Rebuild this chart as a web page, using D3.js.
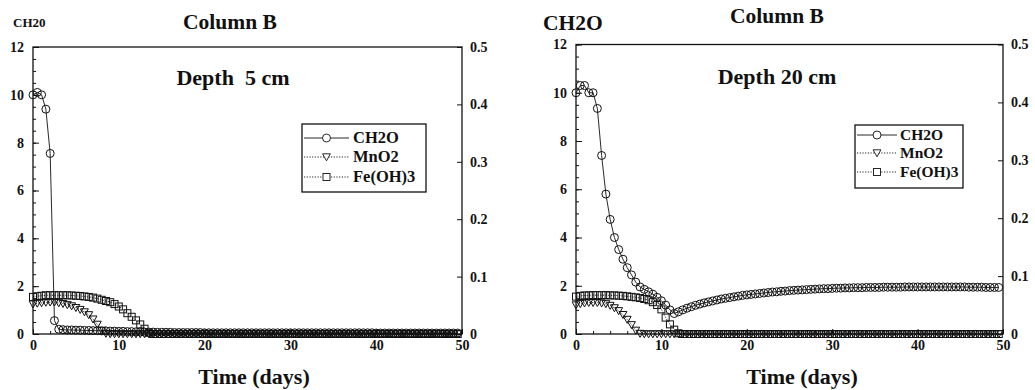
<!DOCTYPE html>
<html>
<head>
<meta charset="utf-8">
<script src="https://cdn.jsdelivr.net/npm/d3@7"></script>
<style>
  body { margin: 0; background: #fff; }
</style>
</head>
<body>
<svg id="chart" width="1035" height="390"></svg>
<script>
// Sampling times (days)
const days = [
  0, 0.5, 1, 1.5, 2, 2.5, 3, 3.5, 4, 4.5,
  5, 5.5, 6, 6.5, 7, 7.5, 8, 8.5, 9, 9.5,
  10, 10.5, 11, 11.5, 12, 12.5, 13, 13.5, 14, 14.5,
  15, 15.5, 16, 16.5, 17, 17.5, 18, 18.5, 19, 19.5,
  20, 20.5, 21, 21.5, 22, 22.5, 23, 23.5, 24, 24.5,
  25, 25.5, 26, 26.5, 27, 27.5, 28, 28.5, 29, 29.5,
  30, 30.5, 31, 31.5, 32, 32.5, 33, 33.5, 34, 34.5,
  35, 35.5, 36, 36.5, 37, 37.5, 38, 38.5, 39, 39.5,
  40, 40.5, 41, 41.5, 42, 42.5, 43, 43.5, 44, 44.5,
  45, 45.5, 46, 46.5, 47, 47.5, 48, 48.5, 49, 49.5
];

// Depth 5 cm
const ch2o5 = [
  10.0, 10.1, 10.0, 9.4, 7.55, 0.56, 0.20, 0.18, 0.17, 0.17,
  0.16, 0.16, 0.15, 0.15, 0.14, 0.14, 0.13, 0.13, 0.12, 0.12,
  0.11, 0.11, 0.10, 0.10, 0.09, 0.09, 0.08, 0.08, 0.08, 0.07,
  0.07, 0.07, 0.07, 0.06, 0.06, 0.06, 0.06, 0.06, 0.06, 0.06,
  0.05, 0.05, 0.05, 0.05, 0.05, 0.05, 0.05, 0.05, 0.05, 0.05,
  0.05, 0.05, 0.05, 0.05, 0.05, 0.05, 0.05, 0.05, 0.05, 0.05,
  0.05, 0.05, 0.05, 0.05, 0.05, 0.05, 0.05, 0.05, 0.05, 0.05,
  0.05, 0.05, 0.05, 0.05, 0.05, 0.05, 0.05, 0.05, 0.05, 0.05,
  0.04, 0.04, 0.04, 0.04, 0.04, 0.04, 0.04, 0.04, 0.04, 0.04,
  0.04, 0.04, 0.04, 0.04, 0.04, 0.04, 0.04, 0.04, 0.04, 0.04
];
const mno2_5 = [
  1.25, 1.28, 1.30, 1.32, 1.33, 1.33, 1.30, 1.27, 1.22, 1.17,
  1.10, 1.02, 0.92, 0.80, 0.62, 0.40, 0.15, 0.02, 0, 0,
  0, 0, 0, 0, 0, 0, 0, 0, 0, 0,
  0, 0, 0, 0, 0, 0, 0, 0, 0, 0,
  0, 0, 0, 0, 0, 0, 0, 0, 0, 0,
  0, 0, 0, 0, 0, 0, 0, 0, 0, 0,
  0, 0, 0, 0, 0, 0, 0, 0, 0, 0,
  0, 0, 0, 0, 0, 0, 0, 0, 0, 0,
  0, 0, 0, 0, 0, 0, 0, 0, 0, 0,
  0, 0, 0, 0, 0, 0, 0, 0, 0, 0
];
const feoh3_5 = [
  1.55, 1.58, 1.60, 1.62, 1.62, 1.62, 1.62, 1.62, 1.62, 1.61,
  1.60, 1.59, 1.57, 1.55, 1.52, 1.48, 1.43, 1.38, 1.33, 1.25,
  1.15, 1.03, 0.87, 0.72, 0.57, 0.40, 0.22, 0.05, 0, 0,
  0, 0, 0, 0, 0, 0, 0, 0, 0, 0,
  0, 0, 0, 0, 0, 0, 0, 0, 0, 0,
  0, 0, 0, 0, 0, 0, 0, 0, 0, 0,
  0, 0, 0, 0, 0, 0, 0, 0, 0, 0,
  0, 0, 0, 0, 0, 0, 0, 0, 0, 0,
  0, 0, 0, 0, 0, 0, 0, 0, 0, 0,
  0, 0, 0, 0, 0, 0, 0, 0, 0, 0
];

// Depth 20 cm
const ch2o20 = [
  10.0, 10.3, 10.3, 10.0, 10.0, 9.35, 7.4, 5.8, 4.75, 4.0,
  3.5, 3.1, 2.75, 2.45, 2.15, 1.95, 1.85, 1.75, 1.65, 1.52,
  1.38, 1.2, 1.0, 0.85, 0.92, 1.0, 1.07, 1.13, 1.19, 1.24,
  1.29, 1.33, 1.37, 1.41, 1.45, 1.48, 1.51, 1.54, 1.57, 1.6,
  1.62, 1.64, 1.66, 1.68, 1.7, 1.72, 1.74, 1.75, 1.77, 1.78,
  1.8, 1.81, 1.82, 1.83, 1.84, 1.85, 1.86, 1.87, 1.88, 1.88,
  1.89, 1.9, 1.9, 1.91, 1.91, 1.92, 1.92, 1.92, 1.93, 1.93,
  1.93, 1.93, 1.94, 1.94, 1.94, 1.94, 1.94, 1.95, 1.95, 1.95,
  1.95, 1.95, 1.95, 1.95, 1.95, 1.95, 1.95, 1.95, 1.95, 1.95,
  1.95, 1.95, 1.94, 1.94, 1.94, 1.94, 1.93, 1.93, 1.93, 1.93
];
const mno2_20 = [
  1.20, 1.25, 1.28, 1.30, 1.30, 1.30, 1.28, 1.25, 1.18, 1.08,
  0.96, 0.80, 0.60, 0.38, 0.15, 0.02, 0, 0, 0, 0,
  0, 0, 0, 0, 0, 0, 0, 0, 0, 0,
  0, 0, 0, 0, 0, 0, 0, 0, 0, 0,
  0, 0, 0, 0, 0, 0, 0, 0, 0, 0,
  0, 0, 0, 0, 0, 0, 0, 0, 0, 0,
  0, 0, 0, 0, 0, 0, 0, 0, 0, 0,
  0, 0, 0, 0, 0, 0, 0, 0, 0, 0,
  0, 0, 0, 0, 0, 0, 0, 0, 0, 0,
  0, 0, 0, 0, 0, 0, 0, 0, 0, 0
];
const feoh3_20 = [
  1.55, 1.58, 1.60, 1.60, 1.61, 1.61, 1.61, 1.61, 1.60, 1.60,
  1.59, 1.58, 1.56, 1.54, 1.52, 1.49, 1.45, 1.40, 1.32, 1.20,
  1.02, 0.68, 0.40, 0.18, 0.03, 0, 0, 0, 0, 0,
  0, 0, 0, 0, 0, 0, 0, 0, 0, 0,
  0, 0, 0, 0, 0, 0, 0, 0, 0, 0,
  0, 0, 0, 0, 0, 0, 0, 0, 0, 0,
  0, 0, 0, 0, 0, 0, 0, 0, 0, 0,
  0, 0, 0, 0, 0, 0, 0, 0, 0, 0,
  0, 0, 0, 0, 0, 0, 0, 0, 0, 0,
  0, 0, 0, 0, 0, 0, 0, 0, 0, 0
];

// Axis ticks
const xTicks = [0, 10, 20, 30, 40, 50];
const yTicks = [0, 2, 4, 6, 8, 10, 12];
const y2Ticks = [0, 0.1, 0.2, 0.3, 0.4, 0.5];
const seriesNames = ["CH2O", "MnO2", "Fe(OH)3"];

const FONT = '"Liberation Serif", "Times New Roman", Times, serif';
const svg = d3.select("#chart");

const panels = [
  { left: 33, right: 462, top: 47, bottom: 334,
    series: [ch2o5, mno2_5, feoh3_5],
    title: "Column B", titleX: 230, titleY: 29,
    yLabel: "CH20", yLabelX: 13, yLabelY: 27, yLabelSize: 13,
    depth: "Depth\u00a0\u00a05 cm", depthX: 233, depthY: 85,
    xLabelX: 254, xLabelY: 384,
    legend: { x: 302, y: 124, w: 124, h: 68, lineX0: 304, lineX1: 349, textX: 353, rows: [143, 162, 182], size: 16.5 } },
  { left: 576, right: 1003, top: 44.5, bottom: 334,
    series: [ch2o20, mno2_20, feoh3_20],
    title: "Column B", titleX: 777, titleY: 23,
    yLabel: "CH2O", yLabelX: 543, yLabelY: 30, yLabelSize: 21.5,
    depth: "Depth 20 cm", depthX: 777, depthY: 84,
    xLabelX: 802, xLabelY: 384,
    legend: { x: 855, y: 125, w: 108, h: 63, lineX0: 857, lineX1: 897, textX: 900, rows: [140, 158, 177], size: 15.5 } }
];

// Marker shapes: circle, down triangle, square
function drawMarker(sel, kind) {
  if (kind === 0) {
    sel.append("circle").attr("r", 4);
  } else if (kind === 1) {
    sel.append("path").attr("d", "M-3.9,-3.2L3.9,-3.2L0,3.8Z");
  } else {
    sel.append("rect").attr("x", -3.5).attr("y", -3.5).attr("width", 7).attr("height", 7);
  }
}
const lineDash = [null, "1.2,1.5", "1.2,1.5"];

function styleAxis(g, size) {
  g.attr("font-family", FONT).attr("font-size", size);
  g.select(".domain").remove();
  g.selectAll("line").attr("stroke", "#111").attr("stroke-width", 1);
  g.selectAll("text")
    .attr("font-family", FONT)
    .attr("font-weight", "bold")
    .attr("font-size", size)
    .attr("fill", "#111");
}

function label(g, txt, xPos, yPos, size, anchor) {
  return g.append("text").attr("x", xPos).attr("y", yPos)
    .attr("text-anchor", anchor || "start")
    .attr("font-family", FONT).attr("font-weight", "bold")
    .attr("fill", "#111")
    .attr("font-size", size).text(txt);
}

panels.forEach(p => {
  const x = d3.scaleLinear().domain([0, 50]).range([p.left, p.right]);
  const y = d3.scaleLinear().domain([0, 12]).range([p.bottom, p.top]);
  const y2 = d3.scaleLinear().domain([0, 0.5]).range([p.bottom, p.top]);

  const g = svg.append("g");

  // minor ticks
  g.append("g").attr("transform", `translate(${p.left},0)`)
    .call(d3.axisLeft(y).tickValues(d3.range(0, 12.01, 0.5)).tickSize(-3).tickFormat(""))
    .call(a => styleAxis(a, 14));
  g.append("g").attr("transform", `translate(0,${p.bottom})`)
    .call(d3.axisBottom(x).tickValues(d3.range(0, 50.01, 2)).tickSize(-3).tickFormat(""))
    .call(a => styleAxis(a, 14));

  // major ticks with labels
  g.append("g").attr("transform", `translate(${p.left},0)`)
    .call(d3.axisLeft(y).tickValues(yTicks).tickSizeInner(-6).tickSizeOuter(0).tickPadding(9))
    .call(a => styleAxis(a, 14));
  g.append("g").attr("transform", `translate(0,${p.bottom})`)
    .call(d3.axisBottom(x).tickValues(xTicks).tickSizeInner(-5).tickSizeOuter(0).tickPadding(6))
    .call(a => styleAxis(a, 14));
  g.append("g").attr("transform", `translate(${p.right},0)`)
    .call(d3.axisRight(y2).tickValues(y2Ticks).tickSizeInner(-5).tickSizeOuter(0).tickPadding(8)
      .tickFormat(d => d === 0 ? "0" : d.toFixed(1)))
    .call(a => styleAxis(a, 14));

  // frame
  g.append("rect")
    .attr("x", p.left).attr("y", p.top)
    .attr("width", p.right - p.left).attr("height", p.bottom - p.top)
    .attr("fill", "none").attr("stroke", "#111").attr("stroke-width", 1.3);

  // series: connecting line, then hollow markers
  p.series.forEach((vals, k) => {
    const pts = days.map((d, i) => [d, vals[i]]);
    g.append("path")
      .attr("d", d3.line().x(d => x(d[0])).y(d => y(d[1]))(pts))
      .attr("fill", "none").attr("stroke", "#111").attr("stroke-width", 0.9)
      .attr("stroke-dasharray", lineDash[k]);
    const m = g.append("g").attr("fill", "none").attr("stroke", "#111").attr("stroke-width", 1)
      .selectAll("g").data(pts).join("g")
      .attr("transform", d => `translate(${x(d[0])},${y(d[1])})`);
    drawMarker(m, k);
  });

  // legend
  const L = p.legend;
  g.append("rect").attr("x", L.x).attr("y", L.y).attr("width", L.w).attr("height", L.h)
    .attr("fill", "#fff").attr("stroke", "#111").attr("stroke-width", 1.3);
  seriesNames.forEach((name, k) => {
    const ly = L.rows[k] - 5;
    g.append("line").attr("x1", L.lineX0).attr("x2", L.lineX1).attr("y1", ly).attr("y2", ly)
      .attr("stroke", "#111").attr("stroke-width", 0.9).attr("stroke-dasharray", lineDash[k]);
    const mk = g.append("g").attr("transform", `translate(${(L.lineX0 + L.lineX1) / 2},${ly})`)
      .attr("fill", "#fff").attr("stroke", "#111").attr("stroke-width", 0.9);
    drawMarker(mk, k);
    label(g, name, L.textX, L.rows[k], L.size);
  });

  // titles and labels
  label(g, p.title, p.titleX, p.titleY, 21.5, "middle");
  label(g, p.yLabel, p.yLabelX, p.yLabelY, p.yLabelSize);
  label(g, p.depth, p.depthX, p.depthY, 22, "middle");
  label(g, "Time (days)", p.xLabelX, p.xLabelY, 22, "middle");
});
</script>
</body>
</html>
